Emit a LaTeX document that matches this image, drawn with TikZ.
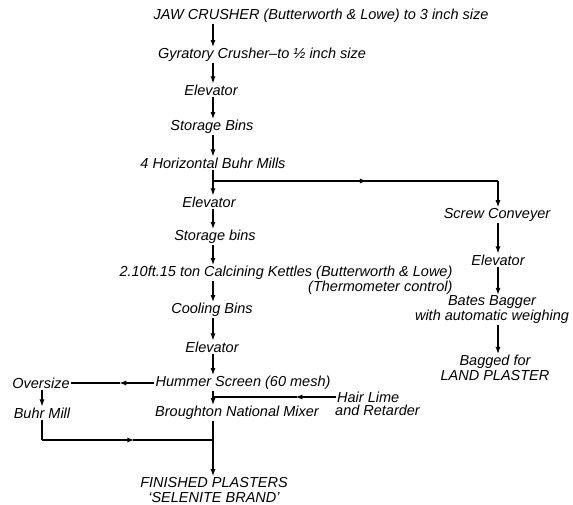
\documentclass[tikz,border=0pt]{standalone}
\usepackage{fontspec}
\setmainfont{Liberation Sans}
\usetikzlibrary{arrows.meta,calc,positioning}

\begin{document}
\begin{tikzpicture}[x=1pt,y=1pt,
          >={Latex[length=7pt,width=5pt]},
          label/.style={font=\itshape\fontsize{14.5}{15}\selectfont,inner sep=1pt},
          flow/.style={->,line width=1.2pt},
          feed/.style={line width=1.2pt}
        ]
        \path[use as bounding box] (0,0) rectangle (573,-504);
        \coordinate (spine) at (213,0);
        \coordinate (rspine) at (498,0);
        \coordinate (lspine) at (42,0);

        % main line
        \node[label] (jaw) at (321,-16) {JAW CRUSHER (Butterworth \& Lowe) to 3 inch size};
        \node[label] (gyr) at (262,-55) {Gyratory Crusher–to ½ inch size};
        \node[label] (elevA) at (211,-90) {Elevator};
        \node[label] (binsA) at (212,-127) {Storage Bins};
        \node[label] (buhr) at (213,-163) {4 Horizontal Buhr Mills};
        \node[label] (elevB) at (209,-202) {Elevator};
        \node[label] (binsB) at (215,-237) {Storage bins};
        \node[label] (kettle) at (286,-273) {2.10ft.15 ton Calcining Kettles (Butterworth \& Lowe)};
        \node[label,anchor=north east,inner ysep=0pt] (thermo) at (kettle.south east) {(Thermometer control)};
        \node[label] (cool) at (212,-310) {Cooling Bins};
        \node[label] (elevC) at (212,-347) {Elevator};
        \node[label] (hummer) at (243,-383) {Hummer Screen (60 mesh)};
        \node[label] (mixer) at (237,-413) {Broughton National Mixer};
        \node[label,align=center] (finish) at (214,-490) {FINISHED PLASTERS\\‘SELENITE BRAND’};

        % side feeds
        \node[label] (oversize) at (41,-383) {Oversize};
        \node[label] (buhrmill) at (42,-413) {Buhr Mill};
        \node[label,anchor=west] (hairA) at (336,-397) {Hair Lime};
        \node[label,anchor=west] (hairB) at (334,-410) {and Retarder};

        % land plaster branch
        \node[label] (screw) at (497,-215) {Screw Conveyer};
        \node[label] (elevD) at (498,-260) {Elevator};
        \node[label,align=center] (bates) at (492,-310) {Bates Bagger\\with automatic weighing};
        \node[label,align=center] (bagged) at (495,-368) {Bagged for\\LAND PLASTER};

        \foreach \a/\b in {jaw/gyr,gyr/elevA,elevA/binsA,binsA/buhr,buhr/elevB,elevB/binsB,
            binsB/kettle,kettle/cool,cool/elevC,elevC/hummer,hummer/mixer,mixer/finish}
          \draw[flow] (\a.south -| spine) -- (\b.north -| spine);

        % branch to land plaster
        \coordinate (split) at (213,-181);
        \coordinate (turn) at (split -| rspine);
        \draw[flow] (split) -- ($(split)!0.54!(turn)$);
        \draw[feed] ($(split)!0.53!(turn)$) -- (turn);
        \draw[flow] (turn) -- (screw.north -| rspine);
        \foreach \a/\b in {screw/elevD,elevD/bates,bates/bagged}
          \draw[flow] (\a.south -| rspine) -- (\b.north -| rspine);

        % oversize return
        \draw[flow] (hummer.west) -- ($(hummer.west)!0.42!(oversize.east)$);
        \draw[feed] ($(hummer.west)!0.41!(oversize.east)$) -- (oversize.east);
        \draw[flow] (oversize.south -| lspine) -- (buhrmill.north -| lspine);
        \coordinate (join) at (213,-440);
        \coordinate (corner) at (join -| lspine);
        \draw[feed] (buhrmill.south -| lspine) -- (corner);
        \draw[flow] (corner) -- ($(corner)!0.54!(join)$);
        \draw[feed] ($(corner)!0.53!(join)$) -- (join);

        % hair lime feed
        \coordinate (hairend) at (hairA.west -| spine);
        \draw[flow] (hairA.west) -- ($(hairA.west)!0.33!(hairend)$);
        \draw[feed] ($(hairA.west)!0.32!(hairend)$) -- (hairend);
\end{tikzpicture}
\end{document}
